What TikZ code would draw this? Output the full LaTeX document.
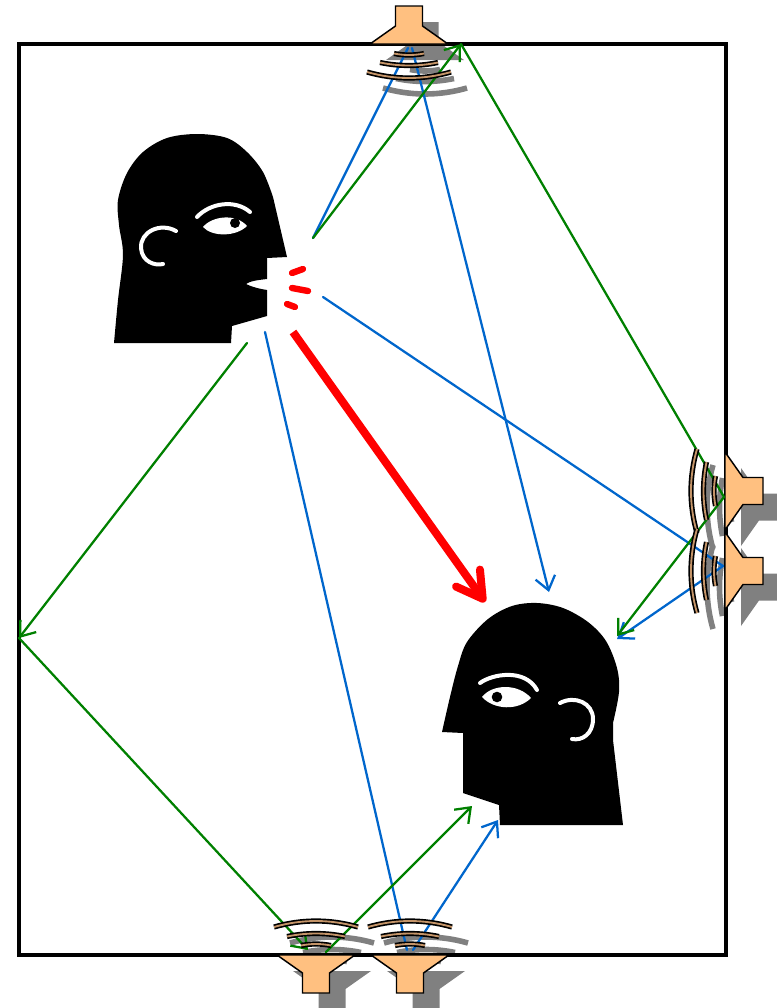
\documentclass[tikz,border=0pt]{standalone}
\usetikzlibrary{arrows.meta}
\definecolor{cone}{RGB}{255,192,128}
\definecolor{shade}{RGB}{128,128,128}
\definecolor{wavecore}{RGB}{196,148,104}
\definecolor{pathblue}{RGB}{0,102,204}
\definecolor{pathgreen}{RGB}{0,128,0}
\definecolor{voice}{RGB}{255,0,0}
\begin{document}
\begin{tikzpicture}[x=0.75pt,y=-0.75pt,
  spkfill/.style={fill=cone,draw=black,line width=1.1pt,line join=miter},
  waveouter/.style={draw=black,line width=3.9pt},
  waveinner/.style={draw=wavecore,line width=1.4pt},
  spkbody/.pic={\path[spkfill] (-39,0) -- (-13.5,-18) -- (-13.5,-38)
      -- (13.5,-38) -- (13.5,-18) -- (39,0) -- cycle;},
  spkwaves/.pic={
    \foreach \w/\e/\c in {15/9.5/11.5, 29/18.5/22.5, 42/28/36}{
      \path[waveouter] (-\w,\e) .. controls (-\w/3,\c) and (\w/3,\c) .. (\w,\e);
      \path[waveinner] (-\w,\e) .. controls (-\w/3,\c) and (\w/3,\c) .. (\w,\e);
    }},
  ray/.style={line width=1.7pt,line cap=round},
  blueray/.style={ray,draw=pathblue},
  greenray/.style={ray,draw=pathgreen},
  tip/.style={-{Straight Barb[length=10pt,width=15pt]}},
  voicearrow/.style={draw=voice,line width=6pt,
    -{Straight Barb[round,length=19pt,width=22pt]}},
  voicedash/.style={draw=voice,line width=4.8pt,line cap=round},
  feature/.style={draw=white,line width=3pt,line cap=round},
]
\useasboundingbox (0,0) rectangle (776,1008);

% drop shadows of the loudspeakers and their wavefronts
\begin{scope}[shift={(16,16)},spkfill/.style={fill=shade},
    waveouter/.style={draw=shade,line width=4.2pt},waveinner/.style={}]
  \pic at (409,44) {spkbody};
  \pic at (409,44) {spkwaves};
  \pic[rotate=-90] at (725,491) {spkbody};
  \pic[rotate=-90] at (725,491) {spkwaves};
  \pic[rotate=-90] at (725,571) {spkbody};
  \pic[rotate=-90] at (725,571) {spkwaves};
  \pic[rotate=180] at (316,955) {spkbody};
  \pic[rotate=180] at (316,955) {spkwaves};
  \pic[rotate=180] at (410,955) {spkbody};
  \pic[rotate=180] at (410,955) {spkwaves};
\end{scope}

% room walls
\draw[line width=3.2pt] (19,44) rectangle (726,955);

% loudspeakers
\pic at (409,44) {spkbody};
\pic[rotate=-90] at (725,491) {spkbody};
\pic[rotate=-90] at (725,571) {spkbody};
\pic[rotate=180] at (316,955) {spkbody};
\pic[rotate=180] at (410,955) {spkbody};

% path end points
\coordinate (mouthUp) at (313,238);
\coordinate (mouthMid) at (323,297);
\coordinate (voiceStart) at (293,332);
\coordinate (chin) at (265,332);
\coordinate (neck) at (247,343);
\coordinate (topIn) at (408,48);
\coordinate (topOut) at (412,48);
\coordinate (topWall) at (461,44);
\coordinate (rightWall) at (724,497);
\coordinate (rightSpk) at (723,566);
\coordinate (leftWall) at (19,638);
\coordinate (botLin) at (308,950);
\coordinate (botLout) at (326,952);
\coordinate (botRin) at (407,950);
\coordinate (botRout) at (413,950);
\coordinate (earTop) at (549,592);
\coordinate (backG) at (617,636);
\coordinate (backB) at (617,639);
\coordinate (chinG) at (472,806);
\coordinate (chinB) at (498,820);
\coordinate (voiceEnd) at (485,602);

% blue paths
\draw[blueray] (mouthUp) -- (topIn);
\draw[blueray,tip] (topOut) -- (earTop);
\draw[blueray] (mouthMid) -- (rightSpk);
\draw[blueray,tip] (rightSpk) -- (backB);
\draw[blueray] (chin) -- (botRin);
\draw[blueray,tip] (botRout) -- (chinB);

% green paths
\draw[greenray,tip] (mouthUp) -- (topWall);
\draw[greenray] (topWall) -- (rightWall);
\draw[greenray,tip] (rightWall) -- (backG);
\draw[greenray,tip] (neck) -- (leftWall);
\draw[greenray,tip] (leftWall) -- (botLin);
\draw[greenray,tip] (botLout) -- (chinG);

% wavefronts
\pic at (409,44) {spkwaves};
\pic[rotate=-90] at (725,491) {spkwaves};
\pic[rotate=-90] at (725,571) {spkwaves};
\pic[rotate=180] at (316,955) {spkwaves};
\pic[rotate=180] at (410,955) {spkwaves};

% direct voice path
\draw[voicearrow] (voiceStart) -- (voiceEnd);
\draw[voicedash] (292,273) -- (303,269);
\draw[voicedash] (292,288) -- (308,291);
\draw[voicedash] (287,304) -- (295,307);

% talker
\fill[black] (231,343) -- (114,343) -- plot[smooth,tension=0.55] coordinates
  {(114,343) (118,300) (123,255) (119,225) (118,200) (127,173) (143,152)
   (167,138) (197,134) (227,138) (247,152) (263,172) (273,197)}
  -- (287,257) -- (267,258) -- (267,279)
  .. controls (258,280) and (250,281) .. (246,284)
  .. controls (252,287) and (260,289) .. (267,290)
  -- (267,316) -- (232,326) -- cycle;
\fill[white] (203,227) .. controls (212,216) and (236,213) .. (247,226)
  .. controls (236,237) and (212,237) .. cycle;
\fill[black] (235,223) circle[radius=5];
\draw[feature] (197,217) .. controls (210,203) and (235,199) .. (250,212);
\draw[feature] (176,231) .. controls (160,222) and (140,232) .. (141,248)
  .. controls (142,262) and (155,266) .. (163,264);

% listener
\fill[black] (623,825) -- (500,825) -- (499,805) -- (463,793) -- (463,733)
  -- (442,732) -- plot[smooth,tension=0.55] coordinates
  {(442,732) (450,697) (458,666) (467,642) (488,619) (512,606) (537,603)
   (563,608) (588,622) (606,641) (617,668) (619,692) (613,723)}
  -- (613,740) -- cycle;
\fill[white] (482,697) .. controls (492,684) and (518,683) .. (531,698)
  .. controls (518,711) and (494,710) .. cycle;
\fill[black] (497,697) circle[radius=5.3];
\draw[feature] (480,683) .. controls (492,674) and (525,668) .. (537,690);
\draw[feature] (560,703) .. controls (575,695) and (593,703) .. (593,719)
  .. controls (593,734) and (582,741) .. (572,739);
\end{tikzpicture}
\end{document}
